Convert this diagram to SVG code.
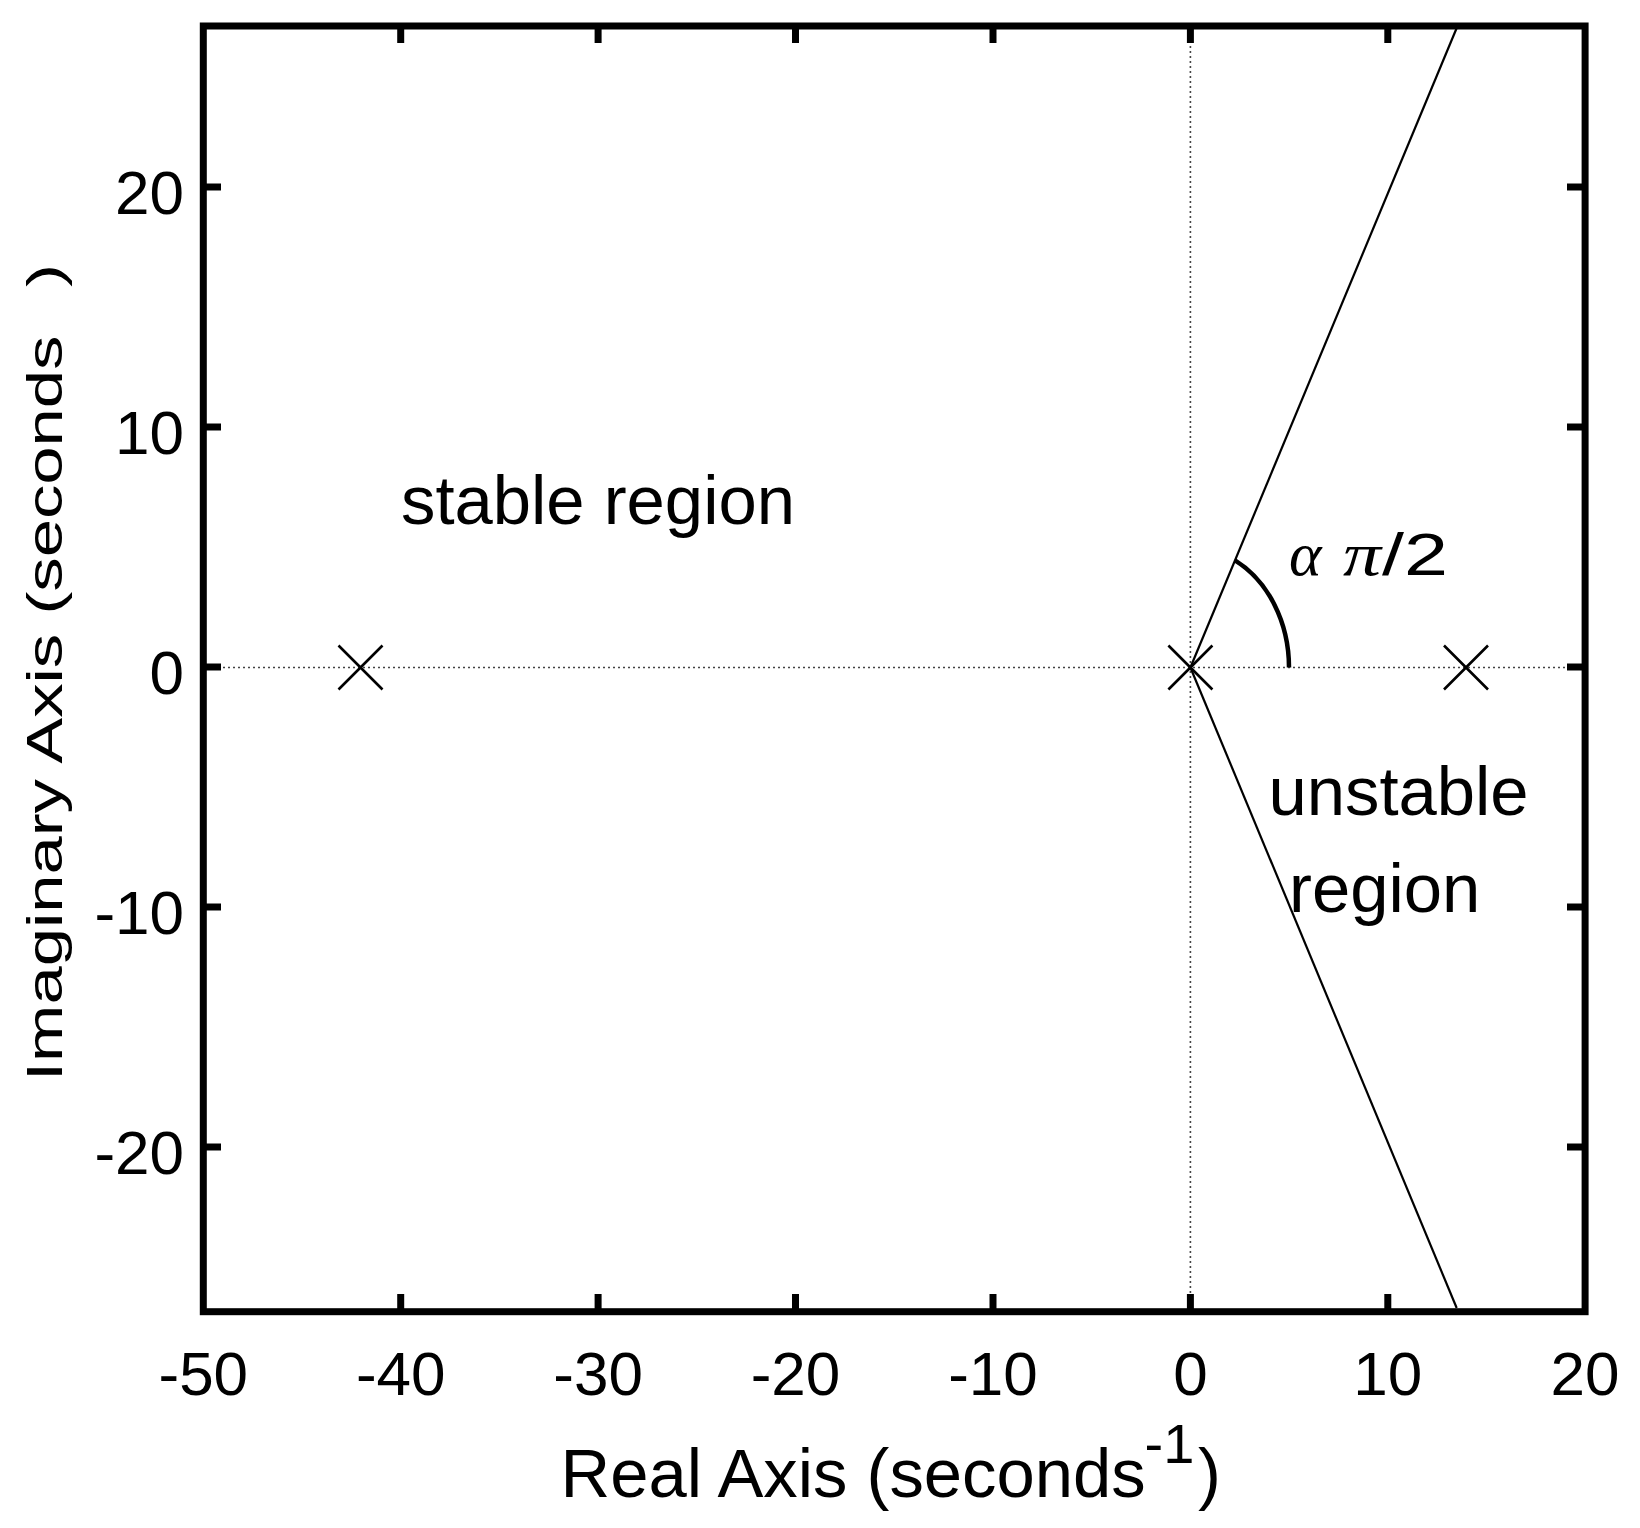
<svg xmlns="http://www.w3.org/2000/svg" width="1640" height="1528" viewBox="0 0 1640 1528">
<style>
.t{font-family:"Liberation Sans",Arial,sans-serif;fill:#000}
.tick{font-size:62px}
.lab{font-size:68.8px}
.ax{stroke:#000;stroke-width:7;fill:none}
.tk{stroke:#000;stroke-width:7}
.dot{stroke:#444;stroke-width:1.6;stroke-dasharray:2 3;fill:none}
.pole{stroke:#000;stroke-width:2.6;fill:none}
.bound{stroke:#000;stroke-width:2.2;fill:none}
.sym{font-family:"Liberation Serif","Times New Roman",serif;font-style:italic;fill:#000}
</style>
<rect width="1640" height="1528" fill="#fff"/>
<g id="grid-zero">
<line class="dot" x1="203" y1="667.5" x2="1585" y2="667.5"/>
<line class="dot" x1="1190.4" y1="26" x2="1190.4" y2="1312"/>
</g>
<g id="connectors">
<path class="bound" d="M1190.4 667.5 L1456.7 28"/>
<path class="bound" d="M1190.4 667.5 L1456.7 1308"/>
<path d="M1289 667.5 A98.7 120 0 0 0 1235 560.4" stroke="#000" stroke-width="4.5" fill="none"/>
</g>
<g id="axes">
<rect class="ax" x="203.3" y="26" width="1381.8" height="1285.7"/>
<g id="xticks">
<line class="tk" x1="400.7" y1="1311.7" x2="400.7" y2="1294"/><line class="tk" x1="400.7" y1="26" x2="400.7" y2="43"/>
<line class="tk" x1="598.1" y1="1311.7" x2="598.1" y2="1294"/><line class="tk" x1="598.1" y1="26" x2="598.1" y2="43"/>
<line class="tk" x1="795.5" y1="1311.7" x2="795.5" y2="1294"/><line class="tk" x1="795.5" y1="26" x2="795.5" y2="43"/>
<line class="tk" x1="993" y1="1311.7" x2="993" y2="1294"/><line class="tk" x1="993" y1="26" x2="993" y2="43"/>
<line class="tk" x1="1190.4" y1="1311.7" x2="1190.4" y2="1294"/><line class="tk" x1="1190.4" y1="26" x2="1190.4" y2="43"/>
<line class="tk" x1="1387.8" y1="1311.7" x2="1387.8" y2="1294"/><line class="tk" x1="1387.8" y1="26" x2="1387.8" y2="43"/>
</g>
<g id="yticks">
<line class="tk" x1="203.3" y1="187" x2="221" y2="187"/><line class="tk" x1="1585" y1="187" x2="1567" y2="187"/>
<line class="tk" x1="203.3" y1="427" x2="221" y2="427"/><line class="tk" x1="1585" y1="427" x2="1567" y2="427"/>
<line class="tk" x1="203.3" y1="667" x2="221" y2="667"/><line class="tk" x1="1585" y1="667" x2="1567" y2="667"/>
<line class="tk" x1="203.3" y1="907" x2="221" y2="907"/><line class="tk" x1="1585" y1="907" x2="1567" y2="907"/>
<line class="tk" x1="203.3" y1="1147" x2="221" y2="1147"/><line class="tk" x1="1585" y1="1147" x2="1567" y2="1147"/>
</g>
<g id="xticklabels" class="t tick" text-anchor="middle">
<text x="203.3" y="1395">-50</text>
<text x="400.7" y="1395">-40</text>
<text x="598.1" y="1395">-30</text>
<text x="795.5" y="1395">-20</text>
<text x="993" y="1395">-10</text>
<text x="1190.4" y="1395">0</text>
<text x="1387.8" y="1395">10</text>
<text x="1585.1" y="1395">20</text>
</g>
<g id="yticklabels" class="t tick" text-anchor="end">
<text x="184" y="214">20</text>
<text x="184" y="454">10</text>
<text x="184" y="694">0</text>
<text x="184" y="934">-10</text>
<text x="184" y="1174">-20</text>
</g>
</g>
<g id="pole-left"><path class="pole" d="M338.5 645.5 L382.5 689.5 M382.5 645.5 L338.5 689.5"/></g>
<g id="pole-origin"><path class="pole" d="M1168.4 645.5 L1212.4 689.5 M1212.4 645.5 L1168.4 689.5"/></g>
<g id="pole-right"><path class="pole" d="M1444 645.5 L1488 689.5 M1488 645.5 L1444 689.5"/></g>
<g id="label-stable"><text class="t lab" x="401" y="524">stable region</text></g>
<g id="label-unstable"><text class="t lab" x="1268.5" y="815">unstable</text><text class="t lab" x="1289" y="912">region</text></g>
<g id="label-angle">
<text class="sym" x="1289" y="575" font-size="62">α</text>
<text class="sym" x="1343" y="575" font-size="62" textLength="38" lengthAdjust="spacingAndGlyphs">π</text>
<text class="t" x="1382" y="575" font-size="60" textLength="66" lengthAdjust="spacingAndGlyphs">/2</text>
</g>
<g id="xlabel"><text class="t lab" x="560.6" y="1497">Real Axis (seconds</text><text class="t" font-size="56" x="1144.5" y="1463">-1</text><text class="t lab" x="1198" y="1497">)</text></g>
<g id="ylabel">
<text class="t lab" transform="translate(62,1081) rotate(-90) scale(1,0.73)">Imaginary Axis (seconds</text>
<text class="t lab" transform="translate(62,287) rotate(-90) scale(1,0.73)">)</text>
</g>
</svg>
